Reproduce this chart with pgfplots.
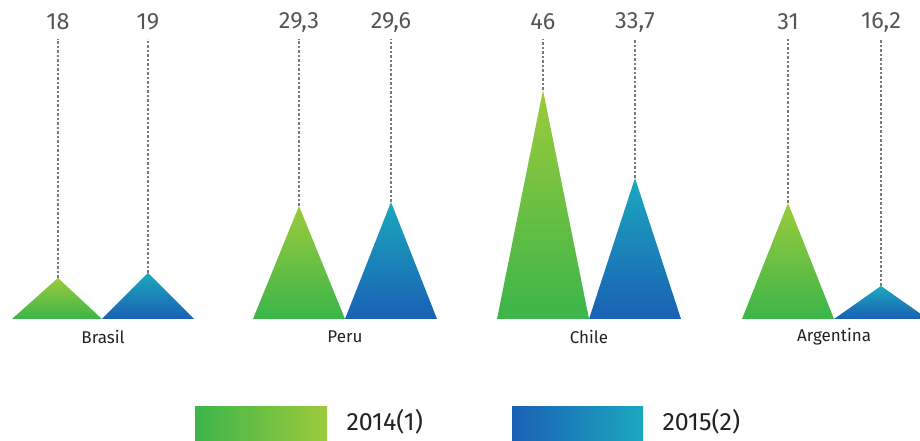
\documentclass[border=0pt]{standalone}
\usepackage{pgfplots}
\pgfplotsset{compat=1.18}
\usepackage{fontspec}
\setmainfont{Fira Sans}
\definecolor{gTop}{HTML}{9CCB3B}
\definecolor{gBot}{HTML}{3BB54A}
\definecolor{bTop}{HTML}{1BA8BE}
\definecolor{bMid}{HTML}{0C78B8}
\definecolor{bBot}{HTML}{1A60B4}
\definecolor{numgray}{HTML}{555555}
\definecolor{dashgray}{HTML}{7A7A7A}
\definecolor{txt}{HTML}{222222}
\begin{document}
\begin{tikzpicture}
\begin{axis}[
  scale only axis, width=920pt, height=441pt,
  xmin=0, xmax=920, ymin=-122, ymax=319,
  hide axis, clip=true,
]
% invisible frame
\addplot[draw=none] coordinates {(0,-122) (920,319)};
% dashed guides (x, apex height -> top)
\pgfplotsset{guide/.style={dashgray, line width=1.4pt, dash pattern=on 2.5pt off 2pt}}
\addplot[guide] coordinates {(58,41) (58,280)};
\addplot[guide] coordinates {(148,46) (148,280)};
\addplot[guide] coordinates {(299,113) (299,280)};
\addplot[guide] coordinates {(391,117) (391,280)};
\addplot[guide] coordinates {(543,229) (543,280)};
\addplot[guide] coordinates {(635,141) (635,280)};
\addplot[guide] coordinates {(788,116) (788,280)};
\addplot[guide] coordinates {(881,33) (881,280)};
% 2014 triangles (green)
\addplot[draw=none, top color=gTop, bottom color=gBot] coordinates {(12,0) (58,41) (102,0)} -- cycle;
\addplot[draw=none, top color=gTop, bottom color=gBot] coordinates {(253,0) (299,113) (345,0)} -- cycle;
\addplot[draw=none, top color=gTop, bottom color=gBot] coordinates {(497,0) (543,229) (589,0)} -- cycle;
\addplot[draw=none, top color=gTop, bottom color=gBot] coordinates {(742,0) (788,116) (834,0)} -- cycle;
% 2015 triangles (blue)
\addplot[draw=none, top color=bTop, middle color=bMid, bottom color=bBot] coordinates {(102,0) (148,46) (194,0)} -- cycle;
\addplot[draw=none, top color=bTop, middle color=bMid, bottom color=bBot] coordinates {(345,0) (391,117) (437,0)} -- cycle;
\addplot[draw=none, top color=bTop, middle color=bMid, bottom color=bBot] coordinates {(589,0) (635,141) (681,0)} -- cycle;
\addplot[draw=none, top color=bTop, middle color=bMid, bottom color=bBot] coordinates {(834,0) (881,33) (928,0)} -- cycle;
% legend swatches
\addplot[draw=none, left color=gBot, right color=gTop] coordinates {(195,-122) (195,-88) (327,-88) (327,-122)} -- cycle;
\addplot[draw=none, left color=bBot, middle color=bMid, right color=bTop] coordinates {(512,-122) (512,-88) (643,-88) (643,-122)} -- cycle;
% value labels
\begin{scope}[every node/.style={text=numgray, font=\fontsize{23.5}{28}\selectfont}]
\node at (axis cs:58,297) {18};
\node at (axis cs:148,297) {19};
\node at (axis cs:299,297) {29,3};
\node at (axis cs:391,297) {29,6};
\node at (axis cs:543,297) {46};
\node at (axis cs:635,297) {33,7};
\node at (axis cs:788,297) {31};
\node at (axis cs:881,297) {16,2};
\end{scope}
% category labels
\begin{scope}[every node/.style={text=txt, font=\fontsize{17}{20}\selectfont}]
\node at (axis cs:103,-18) {Brasil};
\node at (axis cs:345,-18) {Peru};
\node at (axis cs:589,-18) {Chile};
\node at (axis cs:834,-18) {Argentina};
\end{scope}
% legend text
\begin{scope}[every node/.style={text=txt, font=\fontsize{25}{30}\selectfont, anchor=west}]
\node at (axis cs:343,-103) {2014(1)};
\node at (axis cs:659,-103) {2015(2)};
\end{scope}
\end{axis}
\end{tikzpicture}
\end{document}
